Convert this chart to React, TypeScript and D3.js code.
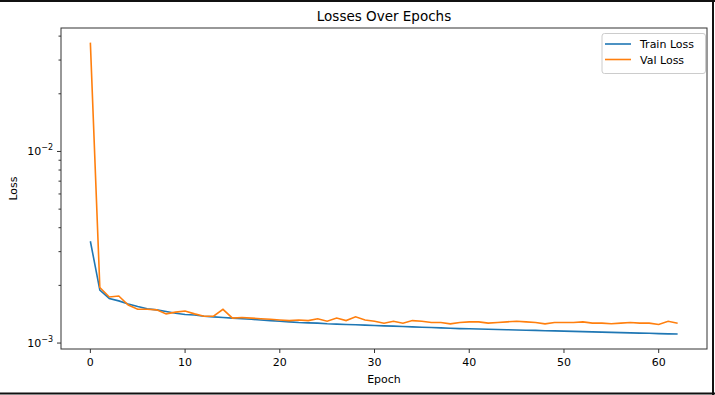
import React from "react";
import * as d3 from "d3";

const epochs = d3.range(0, 63);

const trainLoss = [
  0.0034, 0.00189, 0.00171, 0.00166, 0.0016, 0.00155, 0.00151, 0.00149, 0.00146, 0.00143,
  0.00141, 0.0014, 0.00138, 0.00137, 0.00136, 0.00135, 0.00134, 0.00133, 0.00132, 0.00131,
  0.0013, 0.00129, 0.00128, 0.001275, 0.00127, 0.00126, 0.001255, 0.00125, 0.001245, 0.00124,
  0.001235, 0.00123, 0.001225, 0.00122, 0.001215, 0.00121, 0.001205, 0.0012, 0.001195, 0.00119,
  0.001187, 0.001183, 0.00118, 0.001177, 0.001174, 0.00117, 0.001167, 0.001164, 0.00116, 0.001157,
  0.001154, 0.00115, 0.001147, 0.001144, 0.00114, 0.001137, 0.001134, 0.00113, 0.001127, 0.001124,
  0.00112, 0.001117, 0.001114,
];

const valLoss = [
  0.037, 0.00195, 0.00174, 0.00176, 0.00158, 0.0015, 0.0015, 0.00149, 0.00142, 0.00145,
  0.00147, 0.00142, 0.00138, 0.00138, 0.0015, 0.00135, 0.00136, 0.00135, 0.00134, 0.00133,
  0.00132, 0.00131, 0.00132, 0.00131, 0.00134, 0.0013, 0.00135, 0.00131, 0.00137, 0.00132,
  0.0013, 0.00127, 0.0013, 0.00127, 0.00131, 0.0013, 0.00128, 0.00128, 0.00126, 0.00128,
  0.00129, 0.00129, 0.00127, 0.00128, 0.00129, 0.0013, 0.00129, 0.00128, 0.00126, 0.00128,
  0.00128, 0.00128, 0.00129, 0.00127, 0.00127, 0.00126, 0.00127, 0.00128, 0.00127, 0.00127,
  0.00125, 0.0013, 0.00127,
];

const xTicks = [0, 10, 20, 30, 40, 50, 60];
const yMajor = [1e-3, 1e-2];
const yMajorExp = ["-3", "-2"];
const yMinor = [2e-3, 3e-3, 4e-3, 5e-3, 6e-3, 7e-3, 8e-3, 9e-3, 2e-2, 3e-2, 4e-2];

const series = [
  { name: "Train Loss", values: trainLoss, color: "#1f77b4" },
  { name: "Val Loss", values: valLoss, color: "#ff7f0e" },
];

const W = 715;
const H = 395;
const left = 61, right = 707, top = 28, bottom = 349;
const font = "DejaVu Sans, sans-serif";

export default function App() {
  const x = d3.scaleLinear().domain([-3.1, 65.1]).range([left, right]);
  // one decade ~ 192px, 10^-2 at y=151
  const y = d3.scaleLog().domain([0.000931, 0.0441]).range([bottom, top]);

  const line = d3
    .line<number>()
    .x((_, i) => x(epochs[i]))
    .y((d) => y(d));

  return (
    <div style={{ position: "absolute", left: 0, top: 0 }}>
      <style>{`body { margin: 0; }`}</style>
      <svg width={W} height={H} style={{ display: "block", background: "#fff" }}>
        <text x={(left + right) / 2} y={21} textAnchor="middle" fontFamily={font} fontSize={13.5} fill="#000">
          Losses Over Epochs
        </text>

        {series.map((s) => (
          <path key={s.name} d={line(s.values) || ""} fill="none" stroke={s.color} strokeWidth={1.6} />
        ))}

        {/* spines */}
        <rect x={left} y={top} width={right - left} height={bottom - top} fill="none" stroke="#333" strokeWidth={1} />

        {/* x ticks */}
        {xTicks.map((t) => (
          <g key={t} transform={`translate(${x(t)},${bottom})`}>
            <line y2={4} stroke="#333" />
            <text y={17} textAnchor="middle" fontFamily={font} fontSize={11} fill="#000">
              {t}
            </text>
          </g>
        ))}
        <text x={(left + right) / 2} y={383} textAnchor="middle" fontFamily={font} fontSize={11} fill="#000">
          Epoch
        </text>

        {/* y ticks */}
        {yMinor.map((t) => (
          <line key={t} x1={left - 2.5} x2={left} y1={y(t)} y2={y(t)} stroke="#333" />
        ))}
        {yMajor.map((t, i) => (
          <g key={t} transform={`translate(${left},${y(t)})`}>
            <line x1={-4} stroke="#333" />
            <text x={-8} y={4} textAnchor="end" fontFamily={font} fontSize={11} fill="#000">
              10
              <tspan dy={-5} fontSize={8}>
                {"\u2212" + yMajorExp[i].slice(1)}
              </tspan>
            </text>
          </g>
        ))}
        <text
          transform={`translate(17,${(top + bottom) / 2}) rotate(-90)`}
          textAnchor="middle"
          fontFamily={font}
          fontSize={11}
          fill="#000"
        >
          Loss
        </text>

        {/* legend */}
        <rect x={602} y={33.5} width={103.5} height={40} rx={2.5} fill="#fff" fillOpacity={0.8} stroke="#ccc" />
        {series.map((s, i) => (
          <g key={s.name} transform={`translate(605,${44 + i * 15.5})`}>
            <line x2={26} stroke={s.color} strokeWidth={1.6} />
            <text x={35} y={4} fontFamily={font} fontSize={11} fill="#000">
              {s.name}
            </text>
          </g>
        ))}

        {/* outer frame */}
        <line x1={0} x2={W} y1={1} y2={1} stroke="#111" strokeWidth={2} />
        <line x1={713} x2={713} y1={0} y2={H} stroke="#111" strokeWidth={2} />
        <line x1={0} x2={W} y1={393.5} y2={393.5} stroke="#111" strokeWidth={2} />
      </svg>
    </div>
  );
}
